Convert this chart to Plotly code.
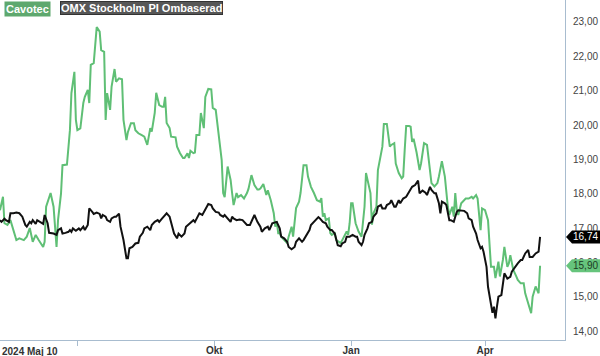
import plotly.graph_objects as go

# ---- Cavotec (green) ----
g_dates = [
 "2024-05-10","2024-05-12","2024-05-13","2024-05-15","2024-05-17","2024-05-19","2024-05-21","2024-05-23","2024-05-26","2024-05-28","2024-05-30",
 "2024-06-01","2024-06-03","2024-06-05","2024-06-08","2024-06-09","2024-06-10","2024-06-13","2024-06-15","2024-06-17","2024-06-18","2024-06-20","2024-06-21","2024-06-24","2024-06-26","2024-06-27","2024-06-29","2024-06-30",
 "2024-07-01","2024-07-03","2024-07-05","2024-07-06","2024-07-08","2024-07-09","2024-07-10","2024-07-12","2024-07-13","2024-07-14","2024-07-16","2024-07-17","2024-07-19","2024-07-20","2024-07-21","2024-07-23","2024-07-24","2024-07-26","2024-07-27","2024-07-29","2024-07-31",
 "2024-08-01","2024-08-03","2024-08-04","2024-08-06","2024-08-08","2024-08-09","2024-08-11","2024-08-13","2024-08-15","2024-08-17","2024-08-19","2024-08-20","2024-08-22","2024-08-23","2024-08-25","2024-08-27","2024-08-28","2024-08-29","2024-08-30",
 "2024-09-01","2024-09-02","2024-09-05","2024-09-06","2024-09-08","2024-09-10","2024-09-11","2024-09-13","2024-09-14","2024-09-15","2024-09-17","2024-09-18","2024-09-19","2024-09-21","2024-09-22","2024-09-24","2024-09-25","2024-09-27","2024-09-29","2024-09-30",
 "2024-10-02","2024-10-04","2024-10-06","2024-10-07","2024-10-08","2024-10-10","2024-10-12","2024-10-13","2024-10-14","2024-10-16","2024-10-17","2024-10-19","2024-10-21","2024-10-23","2024-10-24","2024-10-26","2024-10-28","2024-10-30","2024-10-31",
 "2024-11-01","2024-11-03","2024-11-05","2024-11-06","2024-11-08","2024-11-10","2024-11-11","2024-11-12","2024-11-13","2024-11-14","2024-11-15","2024-11-17","2024-11-19","2024-11-20","2024-11-22","2024-11-23","2024-11-25","2024-11-27","2024-11-28","2024-11-30",
 "2024-12-02","2024-12-03","2024-12-05","2024-12-07","2024-12-09","2024-12-11","2024-12-12","2024-12-13","2024-12-14","2024-12-15","2024-12-17","2024-12-18","2024-12-19","2024-12-21","2024-12-22","2024-12-25","2024-12-27","2024-12-29","2024-12-30","2024-12-31",
 "2025-01-01","2025-01-02","2025-01-04","2025-01-06","2025-01-08","2025-01-10","2025-01-11","2025-01-13","2025-01-14","2025-01-15","2025-01-16","2025-01-18","2025-01-19","2025-01-22","2025-01-23","2025-01-25","2025-01-27","2025-01-28","2025-01-30","2025-01-31",
 "2025-02-02","2025-02-04","2025-02-05","2025-02-06","2025-02-07","2025-02-09","2025-02-10","2025-02-11","2025-02-12","2025-02-14","2025-02-16","2025-02-17","2025-02-19","2025-02-21","2025-02-22","2025-02-24","2025-02-26","2025-02-28",
 "2025-03-01","2025-03-03","2025-03-05","2025-03-06","2025-03-07","2025-03-08","2025-03-10","2025-03-11","2025-03-12","2025-03-13","2025-03-14","2025-03-16","2025-03-17","2025-03-19","2025-03-21","2025-03-23","2025-03-24","2025-03-26","2025-03-27","2025-03-29","2025-03-30",
 "2025-04-01","2025-04-03","2025-04-04","2025-04-05","2025-04-07","2025-04-08","2025-04-10","2025-04-11","2025-04-13","2025-04-14","2025-04-16","2025-04-17","2025-04-18","2025-04-20","2025-04-22","2025-04-23","2025-04-25","2025-04-27","2025-04-28","2025-04-30",
 "2025-05-02","2025-05-03","2025-05-05","2025-05-06","2025-05-07","2025-05-08"]
g_vals = [
 17.52,17.91,17.14,17.09,17.23,16.94,16.65,16.70,16.65,16.75,17.00,
 16.60,16.80,16.65,16.45,16.60,17.62,18.02,17.62,16.45,17.23,18.00,18.83,18.85,19.85,20.93,21.55,20.15,
 19.85,19.90,20.64,20.82,21.02,20.64,21.75,21.80,22.28,22.85,22.72,22.18,22.13,20.15,20.93,20.44,21.12,21.63,21.26,21.36,21.33,
 20.15,19.56,19.80,20.05,20.05,19.85,19.76,19.71,19.66,19.42,19.91,19.81,20.35,20.94,20.58,20.53,20.53,20.82,20.06,
 19.91,19.66,19.64,19.37,19.18,19.04,19.04,19.18,19.04,19.25,19.18,19.20,19.71,19.71,20.35,19.91,20.82,21.05,21.04,20.50,
 20.44,19.77,18.98,18.02,17.90,18.79,18.40,18.02,17.67,18.02,17.90,17.96,17.86,18.02,18.14,18.54,18.25,18.12,18.12,
 18.15,18.28,17.96,18.10,17.81,17.43,17.04,17.20,16.85,16.85,16.75,16.65,16.56,16.75,17.04,16.75,17.58,17.77,18.02,18.83,
 18.83,18.50,18.20,18.02,17.81,17.77,17.87,17.33,17.43,17.23,17.28,16.85,16.80,16.85,16.65,16.56,16.75,16.90,16.80,17.14,
 17.72,17.72,17.14,16.90,16.75,17.62,18.60,18.25,18.02,17.10,17.43,17.62,18.69,19.37,20.03,20.03,19.37,19.42,19.47,18.88,
 18.60,18.45,18.50,19.27,19.97,19.97,19.95,19.51,19.60,19.20,18.69,18.88,19.47,19.42,18.98,18.31,18.21,18.31,
 18.50,18.95,18.50,18.02,17.62,17.38,17.62,17.33,18.02,17.52,17.38,17.72,17.77,17.86,17.86,17.91,17.86,17.96,17.86,16.94,17.57,
 17.52,17.23,16.45,15.87,15.87,15.54,16.02,15.59,16.07,16.45,15.87,15.97,16.21,15.78,15.59,15.49,15.39,15.39,15.10,14.81,
 14.52,15.00,15.30,15.20,15.10,15.90]

# ---- OMX Stockholm PI Ombaserad (black) ----
b_dates = [
 "2024-05-10","2024-05-11","2024-05-13","2024-05-14","2024-05-16","2024-05-17","2024-05-19","2024-05-21","2024-05-23","2024-05-25","2024-05-27","2024-05-28","2024-05-30","2024-05-31",
 "2024-06-01","2024-06-03","2024-06-04","2024-06-06","2024-06-08","2024-06-09","2024-06-11","2024-06-12","2024-06-14","2024-06-15","2024-06-17","2024-06-18","2024-06-20","2024-06-21","2024-06-23","2024-06-25","2024-06-26","2024-06-27","2024-06-28","2024-06-30",
 "2024-07-02","2024-07-03","2024-07-05","2024-07-06","2024-07-08","2024-07-09","2024-07-11","2024-07-12","2024-07-14","2024-07-16","2024-07-17","2024-07-18","2024-07-20","2024-07-21","2024-07-23","2024-07-24","2024-07-26","2024-07-27","2024-07-29","2024-07-30",
 "2024-08-01","2024-08-02","2024-08-03","2024-08-04","2024-08-05","2024-08-07","2024-08-09","2024-08-11","2024-08-12","2024-08-14","2024-08-15","2024-08-17","2024-08-19","2024-08-20","2024-08-22","2024-08-24","2024-08-25","2024-08-27","2024-08-29","2024-08-30",
 "2024-09-01","2024-09-02","2024-09-04","2024-09-06","2024-09-07","2024-09-09","2024-09-11","2024-09-12","2024-09-14","2024-09-15","2024-09-17","2024-09-18","2024-09-20","2024-09-21","2024-09-23","2024-09-24","2024-09-26","2024-09-27","2024-09-29","2024-09-30",
 "2024-10-02","2024-10-04","2024-10-05","2024-10-07","2024-10-08","2024-10-10","2024-10-12","2024-10-13","2024-10-14","2024-10-16","2024-10-18","2024-10-20","2024-10-22","2024-10-23","2024-10-25","2024-10-26","2024-10-28","2024-10-30",
 "2024-11-01","2024-11-02","2024-11-04","2024-11-06","2024-11-07","2024-11-09","2024-11-11","2024-11-12","2024-11-14","2024-11-15","2024-11-17","2024-11-19","2024-11-20","2024-11-22","2024-11-24","2024-11-25","2024-11-27","2024-11-29","2024-11-30",
 "2024-12-02","2024-12-04","2024-12-05","2024-12-08","2024-12-10","2024-12-11","2024-12-13","2024-12-15","2024-12-16","2024-12-18","2024-12-19","2024-12-21","2024-12-22","2024-12-23","2024-12-25","2024-12-26","2024-12-28","2024-12-29","2024-12-31",
 "2025-01-02","2025-01-04","2025-01-05","2025-01-06","2025-01-08","2025-01-09","2025-01-10","2025-01-12","2025-01-13","2025-01-15","2025-01-16","2025-01-18","2025-01-19","2025-01-21","2025-01-22","2025-01-24","2025-01-25","2025-01-27","2025-01-28","2025-01-30","2025-01-31",
 "2025-02-02","2025-02-03","2025-02-05","2025-02-07","2025-02-09","2025-02-10","2025-02-11","2025-02-13","2025-02-15","2025-02-16","2025-02-18","2025-02-20","2025-02-21","2025-02-23","2025-02-24","2025-02-26","2025-02-27",
 "2025-03-01","2025-03-02","2025-03-03","2025-03-05","2025-03-06","2025-03-08","2025-03-09","2025-03-11","2025-03-12","2025-03-13","2025-03-14","2025-03-16","2025-03-18","2025-03-20","2025-03-21","2025-03-23","2025-03-24","2025-03-26","2025-03-27","2025-03-29","2025-03-30","2025-03-31",
 "2025-04-02","2025-04-03","2025-04-05","2025-04-06","2025-04-07","2025-04-08","2025-04-09","2025-04-10","2025-04-12","2025-04-13","2025-04-14","2025-04-16","2025-04-18","2025-04-19","2025-04-21","2025-04-23","2025-04-25","2025-04-26","2025-04-28","2025-04-30",
 "2025-05-01","2025-05-03","2025-05-05","2025-05-07","2025-05-08"]
b_vals = [
 17.23,17.18,17.27,17.23,17.18,17.43,17.43,17.45,17.43,17.33,17.09,17.04,17.18,17.14,
 17.23,17.12,17.23,17.18,17.12,17.38,17.14,16.86,16.86,16.84,16.80,16.94,16.99,16.84,16.86,16.89,16.94,16.89,16.99,16.92,
 16.99,16.94,17.04,16.94,17.09,17.57,17.47,17.41,17.45,17.41,17.28,17.38,17.33,17.23,17.18,17.28,17.33,17.33,17.42,17.04,
 16.65,16.36,16.12,16.12,16.41,16.45,16.55,16.57,16.75,16.86,16.99,17.04,16.94,17.09,17.18,17.23,17.18,17.28,17.38,17.43,
 17.33,17.14,16.84,16.70,16.84,16.75,16.84,17.04,17.12,17.14,17.23,17.18,17.38,17.43,17.38,17.47,17.62,17.70,17.67,17.57,
 17.47,17.45,17.38,17.33,17.38,17.28,17.18,17.33,17.28,17.23,17.25,17.23,17.14,17.09,17.09,17.18,17.38,17.18,
 17.04,16.89,16.99,17.04,16.94,17.14,17.18,17.18,16.99,16.75,16.70,16.60,16.45,16.38,16.45,16.60,16.70,16.60,16.65,
 16.80,16.94,17.09,17.23,17.32,17.28,17.18,17.14,17.04,16.94,16.94,16.84,16.65,16.50,16.47,16.55,16.60,16.75,16.75,
 16.80,16.75,16.75,16.60,16.50,16.60,16.80,16.99,17.14,17.18,17.33,17.43,17.62,17.67,17.57,17.57,17.67,17.72,17.81,17.62,17.62,
 17.81,17.72,17.86,17.91,18.06,18.15,18.20,18.25,18.38,18.01,18.09,18.03,17.96,18.20,18.11,18.01,18.01,
 17.72,17.43,17.77,17.72,17.67,17.23,17.23,17.18,17.33,17.47,17.52,17.52,17.50,17.43,17.28,17.23,17.04,16.84,16.65,16.41,16.45,16.31,
 15.87,15.29,14.76,14.53,14.71,14.37,14.71,15.00,15.05,15.39,15.68,15.53,15.58,15.73,15.87,15.97,16.07,16.07,16.26,16.36,
 16.16,16.16,16.26,16.31,16.74]

y_ticks = [14, 15, 16, 17, 18, 19, 20, 21, 22, 23]
y_ticktext = ["14,00", "15,00", "16,00", "17,00", "18,00", "19,00", "20,00", "21,00", "22,00", "23,00"]
x_ticks = ["2024-07-01", "2024-10-01", "2025-01-01", "2025-04-01"]
x_ticktext = ["", "Okt", "Jan", "Apr"]
start_label = "2024 Maj 10"

GREEN = "#5fbf75"
BLACK = "#111111"
AXIS = "#a8bccf"
FONT = "Liberation Sans, Arial, sans-serif"

fig = go.Figure()
fig.add_trace(go.Scatter(x=g_dates, y=g_vals, mode="lines", name="Cavotec",
                         line=dict(color=GREEN, width=2)))
fig.add_trace(go.Scatter(x=b_dates, y=b_vals, mode="lines", name="OMX Stockholm PI Ombaserad",
                         line=dict(color=BLACK, width=2)))

W_PLOT = 565.0
fmt = lambda v: f"{v:.2f}".replace(".", ",")

shapes = []
annotations = []
# last-value tags on the right axis
for vals, bg, fg in [(g_vals, "#66c47c", "#1d3b24"), (b_vals, "#000000", "#ffffff")]:
    v = vals[-1]
    h = 0.19
    x0 = 1.0 + 1 / W_PLOT
    x1 = 1.0 + 7 / W_PLOT
    x2 = 1.0 + 35 / W_PLOT
    shapes.append(dict(type="path", xref="paper", yref="y", layer="above",
                       path=f"M {x0} {v} L {x1} {v + h} L {x2} {v + h} L {x2} {v - h} L {x1} {v - h} Z",
                       fillcolor=bg, line=dict(width=0)))
    annotations.append(dict(xref="paper", yref="y", x=1.0 + 20 / W_PLOT, y=v, text=fmt(v),
                            showarrow=False, xanchor="center", yanchor="middle",
                            font=dict(family=FONT, size=10, color=fg)))

# legend boxes
annotations.append(dict(xref="paper", yref="paper", x=4 / W_PLOT, y=1 - 1 / 340, xanchor="left", yanchor="top",
                        text="<b>Cavotec</b>", showarrow=False, bgcolor="#5ea86e", borderpad=1,
                        font=dict(family=FONT, size=11, color="#ffffff")))
annotations.append(dict(xref="paper", yref="paper", x=60 / W_PLOT, y=1 - 1 / 340, xanchor="left", yanchor="top",
                        text="<b>OMX Stockholm PI Ombaserad</b>", showarrow=False, bgcolor="#575757",
                        bordercolor="#333333", borderwidth=1, borderpad=0,
                        font=dict(family=FONT, size=11, color="#ffffff")))
# start date label
annotations.append(dict(xref="paper", yref="paper", x=0, y=0, yshift=-4, xanchor="left", yanchor="top",
                        text=f"<b>{start_label}</b>", showarrow=False,
                        font=dict(family=FONT, size=10, color="#333333")))

fig.update_layout(
    width=600, height=356,
    margin=dict(l=0, r=35, t=0, b=16, autoexpand=False),
    paper_bgcolor="white", plot_bgcolor="white",
    showlegend=False,
    font=dict(family=FONT, size=10, color="#444444"),
    shapes=shapes, annotations=annotations,
    xaxis=dict(type="date", range=["2024-05-10", "2025-05-24T18:00"],
               tickvals=x_ticks, ticktext=x_ticktext, automargin=False,
               showgrid=False, zeroline=False,
               showline=True, linecolor=AXIS, linewidth=1,
               ticks="outside", ticklen=5, tickcolor=AXIS, ticklabelstandoff=-4,
               tickfont=dict(family=FONT, size=10, color="#333333", weight="bold")),
    yaxis=dict(side="right", range=[13.74, 23.64], automargin=False,
               tickvals=y_ticks, ticktext=y_ticktext,
               showgrid=False, zeroline=False,
               showline=True, linecolor=AXIS, linewidth=1,
               ticks="", ticklabelstandoff=5,
               tickfont=dict(family=FONT, size=10, color="#444444")),
)

fig.write_html("out.html", config={"displayModeBar": False},
               post_script="document.body.style.margin='0';document.body.style.padding='0';")
